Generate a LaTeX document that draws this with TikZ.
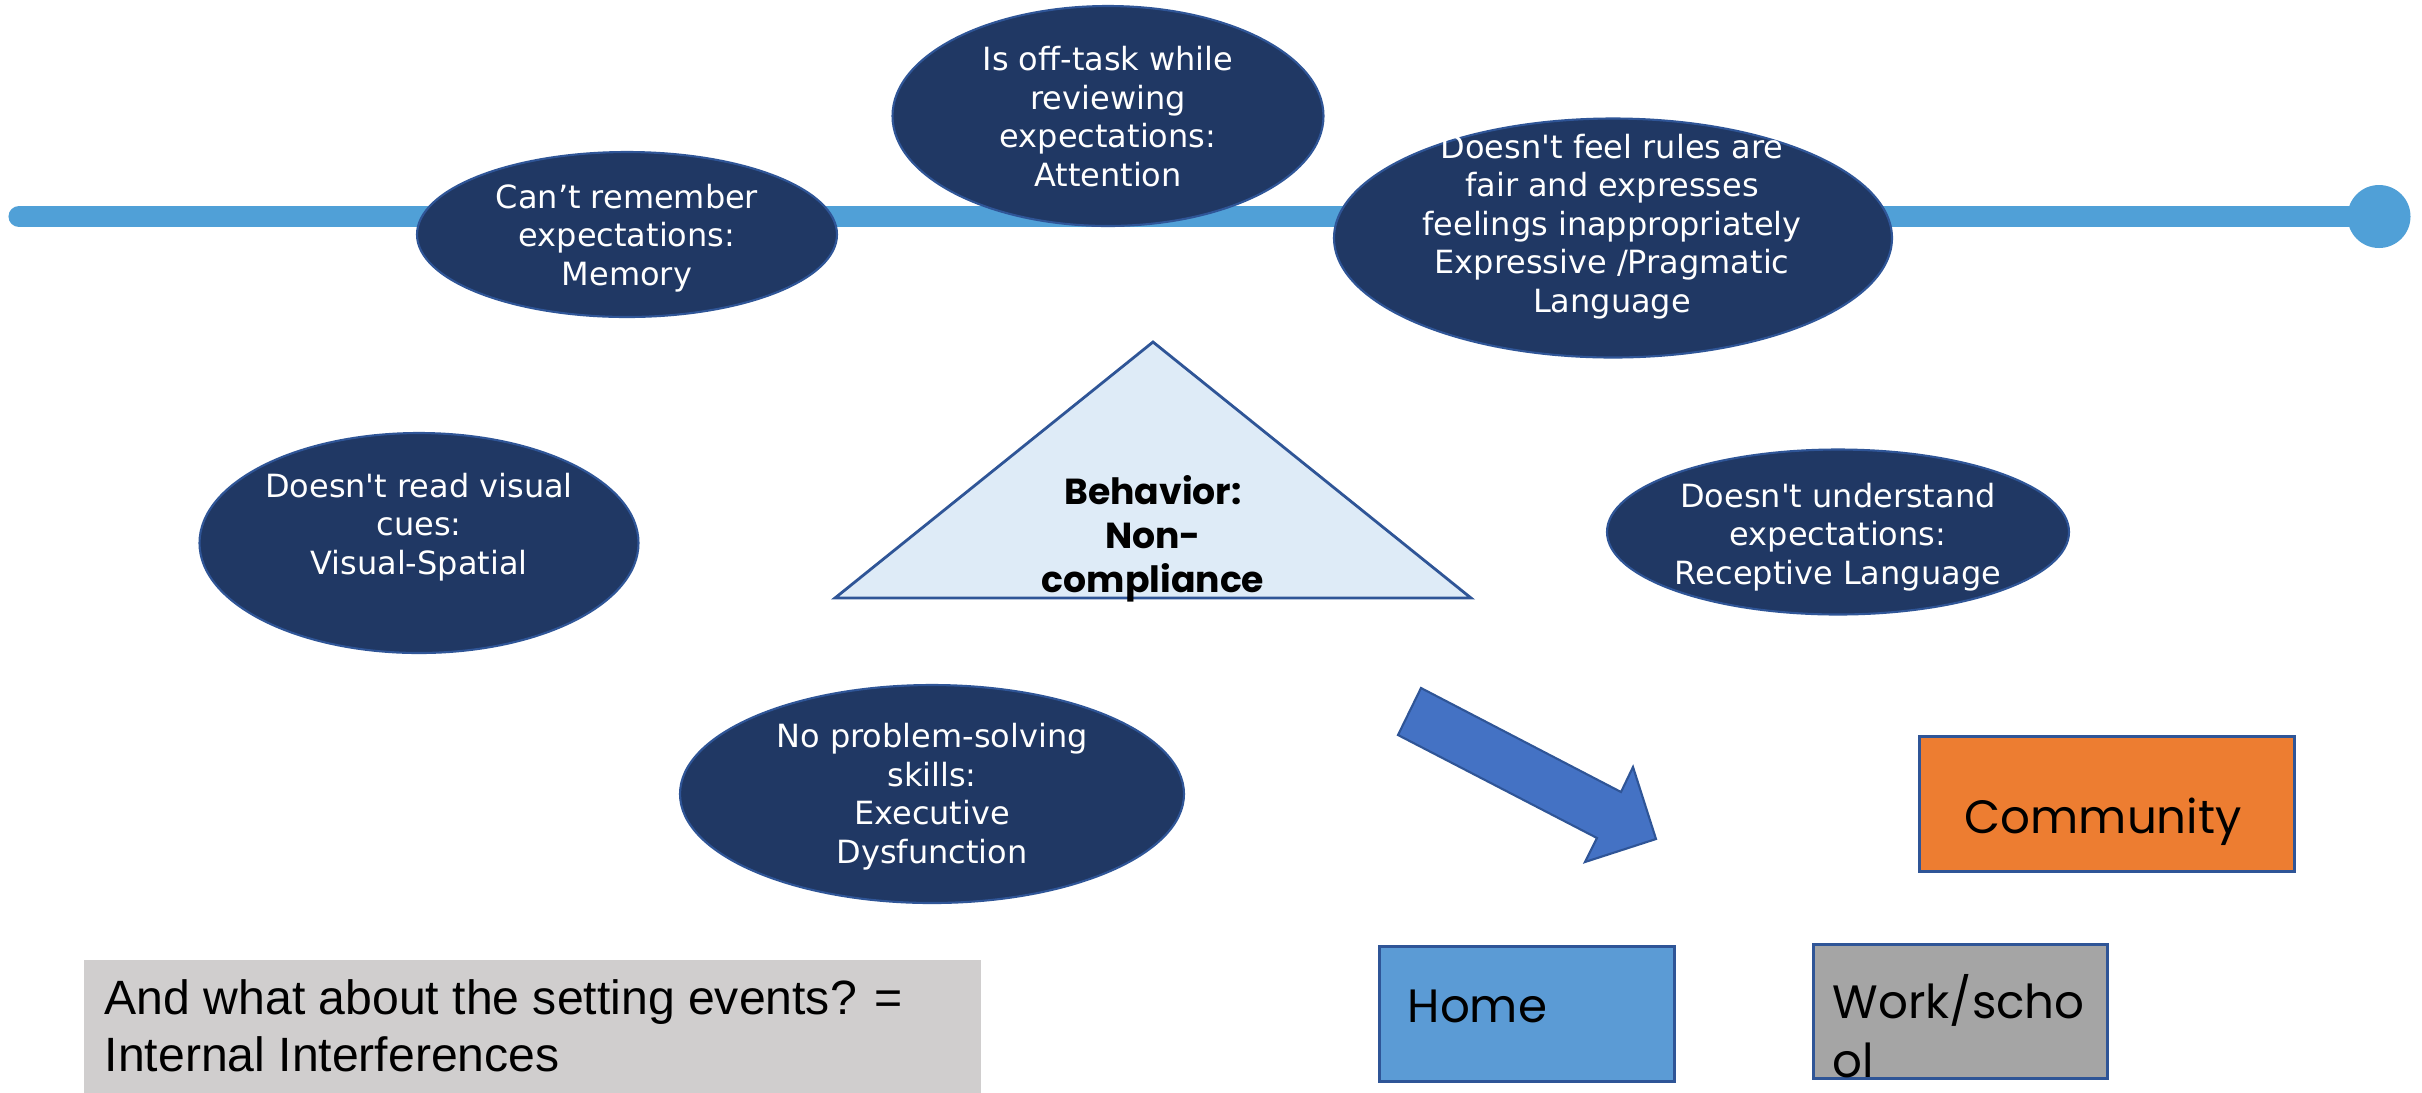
\documentclass[tikz,border=0pt]{standalone}
\usepackage{fontspec}
\usetikzlibrary{shapes.geometric}
\newfontfamily\verd{DejaVu Sans}
\newfontfamily\gothic{Poppins}
\newfontfamily\arial{Liberation Sans}
\definecolor{tl}{RGB}{80,160,215}
\definecolor{navy}{RGB}{32,56,100}
\definecolor{navyline}{RGB}{47,85,151}
\definecolor{trifill}{RGB}{222,235,247}
\definecolor{arrowblue}{RGB}{68,114,196}
\definecolor{corange}{RGB}{237,125,49}
\definecolor{homeblue}{RGB}{91,155,213}
\definecolor{wgrey}{RGB}{165,165,165}
\definecolor{lgrey}{RGB}{208,206,206}
\begin{document}
\begin{tikzpicture}[x=0.1mm,y=-0.1mm,
  bub/.style={ellipse, fill=navy, draw=navyline, line width=0.6pt, inner sep=0pt},
  bubtext/.style={text=white, font=\verd\fontsize{9.1}{10.95}\selectfont, align=center, inner sep=0pt, anchor=base},
  boxstyle/.style={draw=navyline, line width=0.8pt},
  boxtext/.style={font=\gothic\fontsize{13.3}{17}\selectfont, align=left, anchor=base west, inner sep=0pt}]
\useasboundingbox (0,0) rectangle (2422,1092);
\fill[white] (0,0) rectangle (2422,1092);
% timeline
\coordinate (tlL) at (19,216.5);
\node[circle, fill=tl, minimum size=6.3mm, inner sep=0pt] (tlEnd) at (2379,216.5) {};
\draw[tl, line width=6pt, line cap=round] (tlL) -- (tlEnd.center);
% bubbles (text anchored at the baseline of the last line)
\node[bub, minimum width=42mm, minimum height=16.5mm] (mem) at (627,234.5) {};
\node[bubtext] (memT) at (627,285) {Can’t remember\\expectations:\\Memory};
\node[bub, minimum width=43.1mm, minimum height=22mm] (att) at (1108,116) {};
\node[bubtext] (attT) at (1108,186) {Is off-task while\\reviewing\\expectations:\\Attention};
\node[bub, minimum width=55.8mm, minimum height=23.9mm] (exp) at (1613,238) {};
\node[bubtext] (expT) at (1612,312) {Doesn\textquotesingle t feel rules are\\fair and expresses\\feelings inappropriately\\Expressive /Pragmatic\\Language};
\node[bub, minimum width=43.9mm, minimum height=22mm] (vis) at (419,543) {};
\node[bubtext] (visT) at (419,574) {Doesn\textquotesingle t read visual\\cues:\\Visual-Spatial};
\node[bub, minimum width=46.2mm, minimum height=16.5mm] (rec) at (1838,532) {};
\node[bubtext] (recT) at (1838,584) {Doesn\textquotesingle t understand\\expectations:\\Receptive Language};
\node[bub, minimum width=50.4mm, minimum height=21.8mm] (exe) at (932,794) {};
\node[bubtext] (exeT) at (932,863) {No problem-solving\\skills:\\Executive\\Dysfunction};
% triangle
\coordinate (apex) at (1153,342);
\coordinate (bl) at (835,598);
\coordinate (br) at (1471,598);
\draw[draw=navyline, fill=trifill, line width=0.8pt] (apex) -- (br) -- (bl) -- cycle;
\node[font=\gothic\bfseries\fontsize{10.3}{12.5}\selectfont, align=center, inner sep=0pt, anchor=base] (beh) at (1153,592) {Behavior:\\Non-\\compliance};
% arrow
\draw[draw=navyline, fill=arrowblue, line width=0.6pt, line join=miter]
  (1421,688) -- (1621,792) -- (1633,767) -- (1656,839) -- (1585,862) -- (1597,838) -- (1398,735) -- cycle;
% boxes
\node[boxstyle, fill=corange, anchor=north west, minimum width=37.5mm, minimum height=13.5mm, inner sep=0pt] (comm) at (1918,735) {};
\node[boxtext] (commT) at (1964,833) {Community};
\node[boxstyle, fill=homeblue, anchor=north west, minimum width=29.5mm, minimum height=13.5mm, inner sep=0pt] (home) at (1378,945) {};
\node[boxtext] (homeT) at (1407,1022) {Home};
\node[boxstyle, fill=wgrey, anchor=north west, minimum width=29.4mm, minimum height=13.4mm, inner sep=0pt] (work) at (1812,943) {};
\begin{scope}
\clip (1812,943) rectangle (2106,1081);
\node[boxtext, font=\gothic\fontsize{13.3}{16.7}\selectfont] (workT) at (1832,1077) {Work/scho\\ol};
\end{scope}
\node[fill=lgrey, anchor=north west, minimum width=89.7mm, minimum height=13.3mm, inner sep=0pt] (grey) at (83,959) {};
\node[font=\arial\fontsize{13.7}{16.2}\selectfont, align=left, anchor=base west, inner sep=0pt] (greyT) at (104,1071) {And what about the setting events? =\\Internal Interferences};
\end{tikzpicture}
\end{document}
